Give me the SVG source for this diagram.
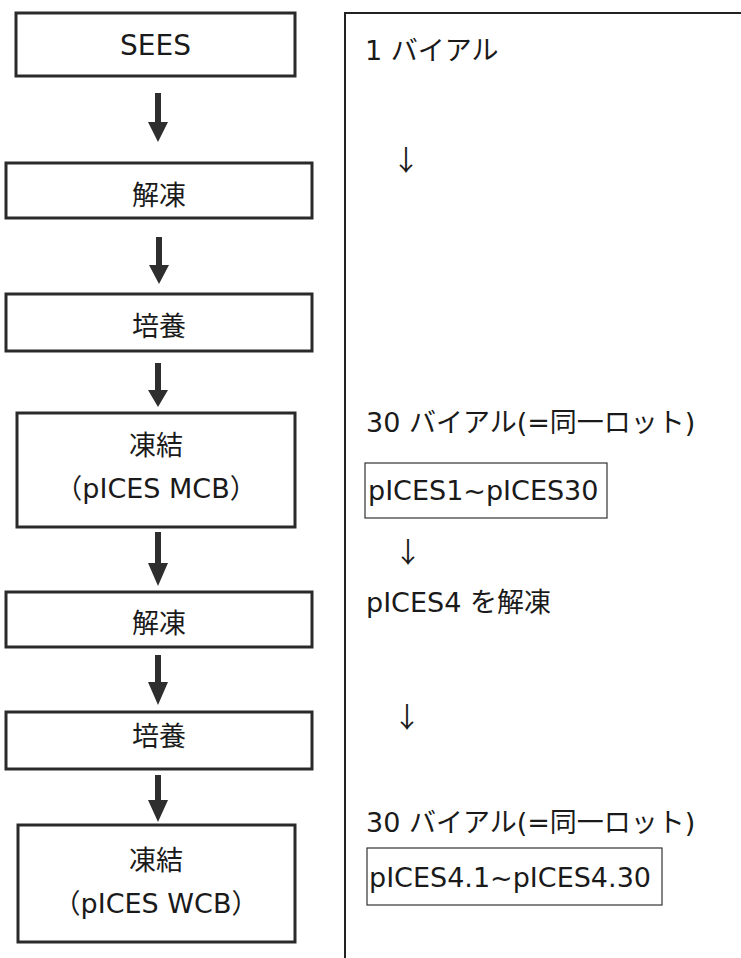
<svg xmlns="http://www.w3.org/2000/svg" width="741" height="958" viewBox="0 0 741 958">
<style>
.box{fill:#fff;stroke:#2a2a2a;stroke-width:3}
.sbox{fill:#fff;stroke:#333;stroke-width:1.2}
.t{font-family:"DejaVu Sans","Noto Sans CJK JP",sans-serif;font-size:27px;fill:#1a1a1a}
.c{text-anchor:middle}
.da{font-family:"Noto Sans CJK JP",sans-serif;font-size:28px;fill:#1a1a1a;text-anchor:middle}
.arr{fill:#2e2e2e}
.panel{fill:none;stroke:#222;stroke-width:2}
</style>
<rect width="741" height="958" fill="#fff"/>
<g id="n1"><rect class="box" x="16" y="13" width="279" height="63"/><text class="t c" x="155.5" y="55" style="font-size:28px">SEES</text></g>
<g id="n2"><rect class="box" x="6" y="163" width="306" height="55"/><text class="t c" x="159" y="205">解凍</text></g>
<g id="n3"><rect class="box" x="6" y="294" width="306" height="57"/><text class="t c" x="159" y="336">培養</text></g>
<g id="n4"><rect class="box" x="17" y="413" width="278" height="114"/><text class="t c" x="156" y="455">凍結</text><text class="t c" x="156" y="498">（pICES MCB）</text></g>
<g id="n5"><rect class="box" x="6" y="592" width="306" height="55"/><text class="t c" x="159" y="633">解凍</text></g>
<g id="n6"><rect class="box" x="6" y="712" width="306" height="57"/><text class="t c" x="159" y="746">培養</text></g>
<g id="n7"><rect class="box" x="18" y="825" width="277" height="117"/><text class="t c" x="156" y="870">凍結</text><text class="t c" x="156" y="913">（pICES WCB）</text></g>
<g id="connectors">
<path class="arr" d="M155,93 H161 V122 H168 L158,142 L148,122 H155 Z"/>
<path class="arr" d="M156,237 H162 V265 H169 L159,284 L149,265 H156 Z"/>
<path class="arr" d="M155,363 H161 V390 H168 L158,407 L148,390 H155 Z"/>
<path class="arr" d="M155,532 H161 V563 H168 L158,586 L148,563 H155 Z"/>
<path class="arr" d="M155,655 H161 V682 H168 L158,705 L148,682 H155 Z"/>
<path class="arr" d="M155,775 H161 V800 H168 L158,822 L148,800 H155 Z"/>
</g>
<g id="panel">
<path class="panel" d="M345,958 V13 H741"/>
<text class="t" x="365" y="60">1 バイアル</text>
<text class="da" x="406" y="171">↓</text>
<text class="t" x="366" y="432">30 バイアル(=同一ロット)</text>
<rect class="sbox" x="365" y="463" width="242" height="55"/>
<text class="t" x="368" y="500">pICES1~pICES30</text>
<text class="da" x="408" y="563">↓</text>
<text class="da" x="407" y="728">↓</text>
<text class="t" x="366" y="612">pICES4 を解凍</text>
<text class="t" x="366" y="832">30 バイアル(=同一ロット)</text>
<rect class="sbox" x="367" y="848" width="295" height="57"/>
<text class="t" x="369" y="887">pICES4.1~pICES4.30</text>
</g>
</svg>
